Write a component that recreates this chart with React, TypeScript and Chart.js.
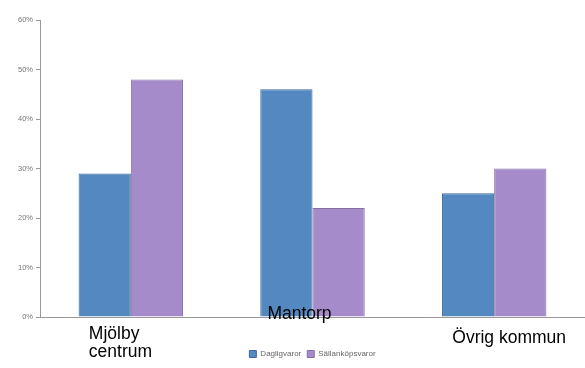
import React, { useEffect, useRef } from "react";
import { Chart, registerables } from "chart.js";

Chart.register(...registerables);

const categories: string[][] = [["Mjölby", "centrum"], ["Mantorp"], ["Övrig kommun"]];
const seriesNames = ["Dagligvaror", "Sällanköpsvaror"];
const dagligvaror = [29, 46, 25];
const sallankopsvaror = [48, 22, 30];
const yTicks = [0, 10, 20, 30, 40, 50, 60];

const labelPlugin = {
  id: "customXLabels",
  afterDraw(chart: any) {
    const ctx = chart.ctx;
    const xs = chart.scales.x;
    const bottom = chart.chartArea.bottom;
    // per-category label placement (style only)
    const place = [
      { dx: -42, dy: 22, align: "left" },
      { dx: -13, dy: 2, align: "center" },
      { dx: 15, dy: 26, align: "center" },
    ];
    ctx.save();
    ctx.font = "17.5px Arial, 'Liberation Sans', sans-serif";
    ctx.fillStyle = "#000";
    ctx.textBaseline = "alphabetic";
    categories.forEach((lines, i) => {
      const p = place[i];
      const x = xs.getPixelForValue(i) + p.dx;
      ctx.textAlign = p.align as CanvasTextAlign;
      lines.forEach((line, j) => {
        ctx.fillText(line, x, bottom + p.dy + j * 18);
      });
    });
    ctx.restore();
  },
};

export default function App() {
  const ref = useRef<HTMLCanvasElement>(null);
  useEffect(() => {
    if (!ref.current) return;
    Chart.defaults.font.family = "Arial, 'Liberation Sans', sans-serif";
    const chart = new Chart(ref.current, {
      type: "bar",
      data: {
        labels: categories.map((c) => c.join(" ")),
        datasets: [
          {
            label: seriesNames[0],
            data: dagligvaror,
            backgroundColor: "#5388c0",
            borderColor: "#3e6a9a",
            borderWidth: 1,
          },
          {
            label: seriesNames[1],
            data: sallankopsvaror,
            backgroundColor: "#a68bcb",
            borderColor: "#8470a3",
            borderWidth: 1,
          },
        ],
      },
      options: {
        animation: false,
        responsive: true,
        maintainAspectRatio: false,
        layout: { padding: { top: 20, right: 0, bottom: 0, left: 0 } },
        datasets: { bar: { categoryPercentage: 0.575, barPercentage: 1 } },
        plugins: {
          legend: {
            position: "bottom",
            fullSize: false,
            labels: {
              boxWidth: 7,
              boxHeight: 7,
              padding: 6,
              color: "#666",
              font: { size: 8 },
            },
          },
          tooltip: { enabled: false },
        },
        scales: {
          x: {
            grid: { display: false },
            border: { color: "#999", width: 1 },
            ticks: { display: false },
            afterFit: (s: any) => {
              s.height = 27;
            },
          },
          y: {
            min: 0,
            max: 60,
            afterBuildTicks: (s: any) => {
              s.ticks = yTicks.map((v) => ({ value: v }));
            },
            grid: { drawOnChartArea: false, tickLength: 4, color: "#999" },
            border: { color: "#999", width: 1 },
            ticks: {
              color: "#777",
              font: { size: 7.5 },
              padding: 3,
              callback: (v: any) => v + "%",
            },
            afterFit: (s: any) => {
              s.width = 40;
            },
          },
        },
      },
      plugins: [labelPlugin],
    });
    return () => chart.destroy();
  }, []);
  return (
    <div style={{ position: "fixed", left: 0, top: 0, width: 585, height: 368, background: "#fff" }}>
      <canvas ref={ref} />
    </div>
  );
}
